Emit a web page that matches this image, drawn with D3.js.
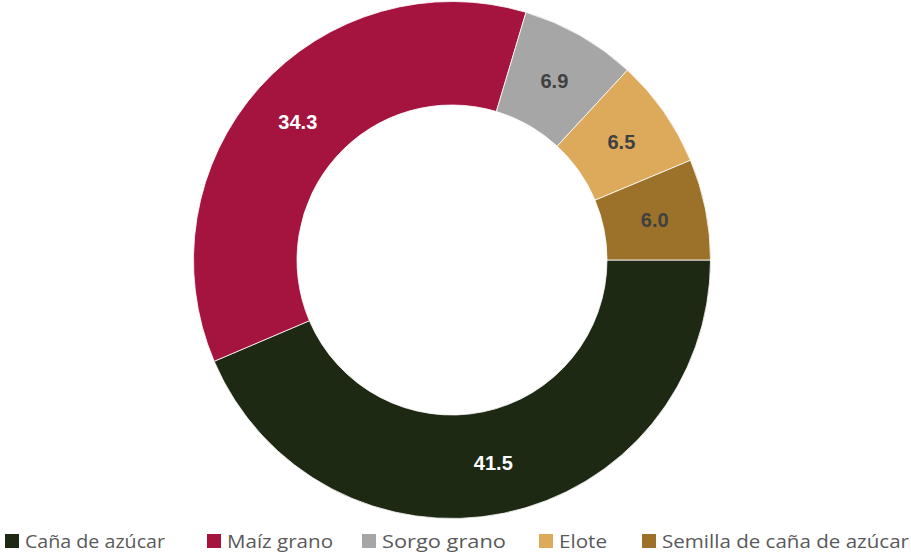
<!DOCTYPE html>
<html><head><meta charset="utf-8">
<script src="https://cdn.jsdelivr.net/npm/d3@7"></script>
<style>body{margin:0;background:#fff}svg{display:block}</style>
</head><body>
<svg id="c" width="911" height="554"></svg>
<script>
const categories = ["Caña de azúcar","Maíz grano","Sorgo grano","Elote","Semilla de caña de azúcar"];
const values = [41.5, 34.3, 6.9, 6.5, 6.0];
const colors = ["#1E2914","#A5133F","#A6A6A6","#DDA95B","#9C722B"];
const labelColors = ["#ffffff","#ffffff","#404040","#404040","#404040"];

const svg = d3.select("#c");
const cx = 452, cy = 260, rOuter = 258.5, rInner = 155;
const data = categories.map((c,i)=>({cat:c, value:values[i], i}));
const pie = d3.pie().value(d=>d.value).sort(null).startAngle(Math.PI/2).endAngle(Math.PI/2 + 2*Math.PI);
const arc = d3.arc().innerRadius(rInner).outerRadius(rOuter);
const arcs = pie(data);
const g = svg.append("g").attr("transform",`translate(${cx},${cy})`);
g.selectAll("path").data(arcs).join("path")
  .attr("d",arc).attr("fill",d=>colors[d.data.i])
  .attr("stroke","#fff").attr("stroke-width",0.8);
g.selectAll("text").data(arcs).join("text")
  .attr("transform",d=>`translate(${arc.centroid(d)})`)
  .attr("text-anchor","middle").attr("dy","0.36em")
  .attr("font-family","Liberation Sans, Arial, sans-serif").attr("font-weight","bold")
  .attr("font-size",20).attr("fill",d=>labelColors[d.data.i])
  .text(d=>d.data.value.toFixed(1));

// legend
const legX = [5, 207, 362, 539, 642];
const legW = [140, 106, 124, 48, 247];
const lg = svg.append("g");
categories.forEach((c,i)=>{
  lg.append("rect").attr("x",legX[i]).attr("y",534).attr("width",14).attr("height",14).attr("fill",colors[i]);
  lg.append("text").attr("x",legX[i]+20).attr("y",548)
    .attr("font-family","Open Sans, sans-serif").attr("font-size",18.5).attr("fill","#595959")
    .attr("textLength",legW[i]).attr("lengthAdjust","spacingAndGlyphs").text(c);
});
</script>
</body></html>
